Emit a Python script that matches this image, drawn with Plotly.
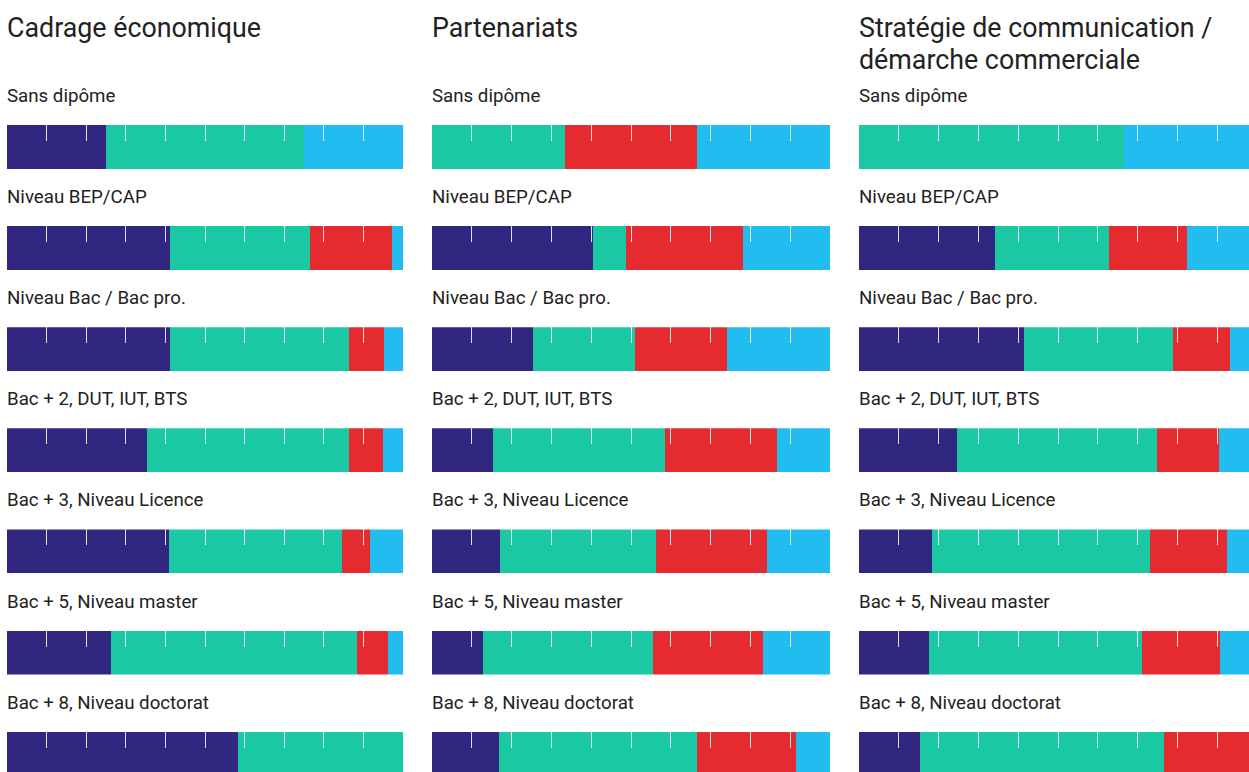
import plotly.graph_objects as go

# ---------------- data ----------------
panels = [["Cadrage économique"], ["Partenariats"],
          ["Stratégie de communication /", "démarche commerciale"]]
levels = ["Sans dipôme", "Niveau BEP/CAP", "Niveau Bac / Bac pro.",
          "Bac + 2, DUT, IUT, BTS", "Bac + 3, Niveau Licence",
          "Bac + 5, Niveau master", "Bac + 8, Niveau doctorat"]

# shares (%) per panel, per level: navy, teal, red, light blue
navy_cadrage = [25.0, 41.2, 41.2, 35.4, 40.9, 26.3, 58.3]
teal_cadrage = [50.0, 35.3, 45.2, 51.0, 43.7, 62.1, 41.7]
red_cadrage = [0.0, 20.6, 8.8, 8.5, 7.1, 7.8, 0.0]
blue_cadrage = [25.0, 2.9, 4.8, 5.1, 8.3, 3.8, 0.0]

navy_partenariats = [0.0, 40.5, 25.4, 15.3, 17.1, 12.8, 16.8]
teal_partenariats = [33.3, 8.2, 25.6, 43.2, 39.2, 42.7, 49.8]
red_partenariats = [33.3, 29.4, 23.1, 28.2, 27.9, 27.7, 24.9]
blue_partenariats = [33.4, 21.9, 25.9, 13.3, 15.8, 16.8, 8.5]

navy_strategie = [0.0, 34.2, 41.5, 24.6, 18.3, 17.6, 15.3]
teal_strategie = [66.7, 28.6, 37.4, 50.3, 54.8, 53.5, 61.3]
red_strategie = [0.0, 19.6, 14.3, 15.6, 19.4, 19.6, 23.4]
blue_strategie = [33.3, 17.6, 6.8, 9.5, 7.5, 9.3, 0.0]

tick_values = [10, 20, 30, 40, 50, 60, 70, 80, 90]

series_by_panel = [
    [navy_cadrage, teal_cadrage, red_cadrage, blue_cadrage],
    [navy_partenariats, teal_partenariats, red_partenariats, blue_partenariats],
    [navy_strategie, teal_strategie, red_strategie, blue_strategie],
]

# ---------------- styling ----------------
colors = ["#312680", "#1bc8a4", "#e52b30", "#21bdf0"]
W, H = 1249, 772
col_left = [7, 432, 859]
col_width = [396, 398, 398]
bar_top0, row_step, bar_h = 125, 101.1, 44
label_offset = 29
title_y0, title_step = 28, 32
font_family = "Roboto, 'Open Sans', sans-serif"
text_color = "#222222"

fig = go.Figure()
layout_axes = {}
annotations = []

idx = 0
for c in range(3):
    left = col_left[c]
    right = min(left + col_width[c], W)
    x0, x1 = left / W, right / W
    xmax = 100 * (right - left) / col_width[c]
    for r in range(7):
        idx += 1
        ax = "" if idx == 1 else str(idx)
        top = bar_top0 + r * row_step
        bottom = top + bar_h
        vis_bottom = min(bottom, H)
        ymin = 0.5 - (vis_bottom - top) / bar_h
        for s in range(4):
            fig.add_trace(go.Bar(
                x=[series_by_panel[c][s][r]], y=[0], orientation="h",
                width=1, marker=dict(color=colors[s], line=dict(width=0)),
                xaxis="x" + ax, yaxis="y" + ax, showlegend=False,
                hoverinfo="skip"))
        layout_axes["xaxis" + ax] = dict(
            domain=[x0, x1], range=[0, xmax], anchor="y" + ax, side="top",
            showgrid=False, zeroline=False, showline=False,
            showticklabels=False, ticks="inside", ticklen=16, tickwidth=1,
            tickcolor="rgba(255,255,255,0.85)", tickmode="array",
            tickvals=tick_values, fixedrange=True)
        layout_axes["yaxis" + ax] = dict(
            domain=[1 - vis_bottom / H, 1 - top / H], range=[ymin, 0.5],
            anchor="x" + ax, showgrid=False, zeroline=False, showline=False,
            showticklabels=False, ticks="", fixedrange=True)
        annotations.append(dict(
            text=levels[r], xref="paper", yref="paper", x=x0, xshift=-2,
            y=1 - (top - label_offset) / H, xanchor="left", yanchor="middle",
            showarrow=False, font=dict(size=18.7, color=text_color,
                                       family=font_family)))
    for i, line in enumerate(panels[c]):
        annotations.append(dict(
            text=line, xref="paper", yref="paper", x=x0, xshift=-2,
            y=1 - (title_y0 + i * title_step) / H,
            xanchor="left", yanchor="middle", showarrow=False,
            font=dict(size=26.8, color=text_color, family=font_family)))

fig.update_layout(
    width=W, height=H, barmode="stack", bargap=0,
    margin=dict(l=0, r=0, t=0, b=0),
    paper_bgcolor="white", plot_bgcolor="white",
    annotations=annotations, **layout_axes)

fig.write_html(
    "out.html", config={"displayModeBar": False},
    post_script="document.body.style.margin='0';"
                "document.body.style.overflow='hidden';")
